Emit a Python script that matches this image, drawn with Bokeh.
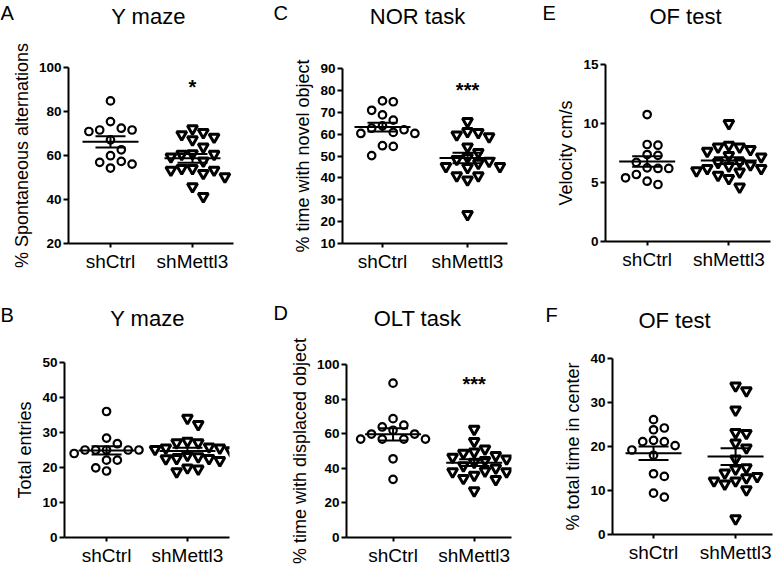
import numpy as np
from bokeh.plotting import figure
from bokeh.layouts import row, column
from bokeh.models import Label, Range1d, FixedTicker
from bokeh.embed import file_html
from bokeh.resources import INLINE

FONT = "Liberation Sans"
groups = ["shCtrl", "shMettl3"]

# A: Y maze - % spontaneous alternations
alt_ctrl = [84.8, 75.4, 72.4, 71.6, 71.6, 70.9, 67.1, 62.6, 59.9, 57.3, 56.9, 56.1, 54.3]
alt_mettl3 = [72.2, 70.5, 69.5, 68.4, 67.2, 63.9, 60.9, 60.6, 60.6, 59.4, 57.5,
              54.1, 54.1, 53.4, 53.4, 51.9, 50.4, 45.9, 41.4]
# B: Y maze - total entries
entries_ctrl = [36.0, 28.4, 26.8, 25.0, 25.0, 25.0, 25.0, 25.0, 24.0, 22.1, 22.1, 19.9, 19.0]
entries_mettl3 = [34.1, 32.3, 27.5, 27.1, 27.1, 25.9, 25.6, 25.6, 25.2, 24.8, 23.5,
                  23.1, 22.6, 22.6, 22.5, 22.0, 19.9, 19.6, 18.8]
# C: NOR task - % time with novel object
nor_ctrl = [75.2, 74.8, 70.9, 68.8, 66.4, 63.8, 62.7, 62.0, 60.8, 60.3, 60.3, 54.7, 54.4, 50.2]
nor_mettl3 = [65.8, 61.2, 60.8, 59.7, 58.8, 54.2, 51.7, 49.4, 48.5, 47.6, 46.7,
              45.2, 45.2, 44.8, 41.0, 41.0, 39.1, 23.3]
# D: OLT task - % time with displaced object
olt_ctrl = [89.2, 68.7, 64.9, 63.9, 62.0, 59.8, 59.8, 56.9, 56.9, 56.9, 56.9, 45.5, 33.6]
olt_mettl3 = [62.6, 55.6, 51.2, 49.5, 48.8, 47.4, 46.5, 45.5, 44.6, 43.5, 41.5,
              40.2, 38.5, 38.0, 38.0, 36.0, 34.2, 33.6, 27.1]
# E: OF test - velocity
vel_ctrl = [10.76, 8.22, 8.16, 7.37, 7.3, 6.7, 6.24, 6.19, 6.19, 5.68, 5.4, 5.11, 4.83]
vel_mettl3 = [10.0, 8.16, 8.02, 8.02, 7.8, 7.66, 7.3, 7.18, 6.75, 6.7, 6.5, 6.4,
              6.19, 6.19, 6.0, 5.9, 5.62, 5.34, 4.63]
# F: OF test - % total time in center
center_ctrl = [26.1, 24.2, 23.8, 21.4, 21.1, 21.1, 20.2, 19.2, 18.0, 13.8, 13.2, 9.4, 8.5]
center_mettl3 = [33.8, 32.7, 28.3, 23.2, 23.0, 20.8, 19.7, 17.2, 15.2, 14.9, 14.0,
                 13.2, 12.9, 12.2, 12.2, 11.5, 10.2, 3.6]


def swarm(vals, ppx, ppy, step=10.8, diam=10.0):
    v = np.asarray(vals, float)
    order = np.argsort(-v, kind="stable")
    placed = []
    off = np.zeros(len(v))
    cands = [0]
    for k in range(1, 10):
        cands += [k, -k]
    for i in order:
        y = v[i] * ppy
        x = 0.0
        for c in cands:
            x = c * step
            if all((x - px) ** 2 + (y - py) ** 2 >= diam ** 2 for px, py in placed):
                break
        placed.append((x, y))
        off[i] = x / ppx
    return off


# layout: each cell = header figure (letter + title) over the plot figure
panels = [
    dict(letter="A", title="Y maze", ylabel="% Spontaneous alternations",
         ctrl=alt_ctrl, kd=alt_mettl3, yr=(20, 100), yticks=[20, 40, 60, 80, 100],
         star="*", star_y=91.0, xr=(0.488, 2.5),
         w=268, hh=36, h=249, mbl=68, mbr=35, mbt=31, mbb=42,
         tx=148, ty=16, lx=0, ly=12),
    dict(letter="C", title="NOR task", ylabel="% time with novel object",
         ctrl=nor_ctrl, kd=nor_mettl3, yr=(10, 90), yticks=list(range(10, 91, 10)),
         star="***", star_y=80.0, xr=(0.53, 2.47),
         w=260, hh=36, h=249, mbl=74, mbr=21, mbt=32, mbb=42,
         tx=149, ty=16, lx=5, ly=12),
    dict(letter="E", title="OF test", ylabel="Velocity cm/s",
         ctrl=vel_ctrl, kd=vel_mettl3, yr=(0, 15), yticks=[0, 5, 10, 15],
         star=None, star_y=None, xr=(0.49, 2.51),
         w=248, hh=36, h=249, mbl=77, mbr=6, mbt=28, mbb=44,
         tx=157, ty=16, lx=14, ly=12),
    dict(letter="B", title="Y maze", ylabel="Total entries",
         ctrl=entries_ctrl, kd=entries_mettl3, yr=(0, 50), yticks=list(range(0, 51, 10)),
         star=None, star_y=None, xr=(0.48, 2.52),
         w=268, hh=48, h=235, mbl=64, mbr=39, mbt=29, mbb=30,
         tx=147, ty=33, lx=0, ly=29),
    dict(letter="D", title="OLT task", ylabel="% time with displaced object",
         ctrl=olt_ctrl, kd=olt_mettl3, yr=(0, 100), yticks=list(range(0, 101, 20)),
         star="***", star_y=89.0, xr=(0.426, 2.46),
         w=260, hh=48, h=235, mbl=78, mbr=17, mbt=31, mbb=29,
         tx=149, ty=33, lx=5, ly=27),
    dict(letter="F", title="OF test", ylabel="% total time in center",
         ctrl=center_ctrl, kd=center_mettl3, yr=(0, 40), yticks=list(range(0, 41, 10)),
         star=None, star_y=None, xr=(0.5, 2.45),
         w=248, hh=48, h=235, mbl=84, mbr=4, mbt=25, mbb=34,
         tx=146, ty=34.5, lx=17, ly=29),
]


def no_align(fig):
    try:
        fig.frame_align = False
    except Exception:
        pass


def make_header(c):
    h = figure(width=c["w"], height=c["hh"], x_range=Range1d(0, c["w"]),
               y_range=Range1d(c["hh"], 0), output_backend="svg", toolbar_location=None,
               x_axis_location=None, y_axis_location=None, title=None, min_border=0)
    no_align(h)
    h.grid.visible = False
    h.outline_line_color = None
    h.background_fill_color = "white"
    h.border_fill_color = "white"
    h.add_layout(Label(x=c["tx"], y=c["ty"], text=c["title"], text_font=FONT,
                       text_font_size="22px", text_color="black",
                       text_align="center", text_baseline="alphabetic"))
    h.add_layout(Label(x=c["lx"], y=c["ly"], text=c["letter"], text_font=FONT,
                       text_font_size="20px", text_color="black",
                       text_align="left", text_baseline="alphabetic"))
    return h


def make_panel(c):
    fw = c["w"] - c["mbl"] - c["mbr"]
    fh = c["h"] - c["mbt"] - c["mbb"]
    x0, x1 = c["xr"]
    y0, y1 = c["yr"]
    ppx = fw / (x1 - x0)
    ppy = fh / (y1 - y0)
    p = figure(width=c["w"], height=c["h"], x_range=Range1d(x0, x1), y_range=Range1d(y0, y1),
               output_backend="svg", toolbar_location=None, title=None,
               min_border_left=c["mbl"], min_border_right=c["mbr"],
               min_border_top=c["mbt"], min_border_bottom=c["mbb"])
    no_align(p)
    p.grid.visible = False
    p.outline_line_color = None
    p.background_fill_color = "white"
    p.border_fill_color = "white"

    for ax in (p.xaxis[0], p.yaxis[0]):
        ax.axis_line_width = 2
        ax.axis_line_color = "black"
        ax.major_tick_line_width = 2
        ax.major_tick_line_color = "black"
        ax.major_tick_in = 0
        ax.major_tick_out = 5
        ax.minor_tick_line_color = None
    xa = p.xaxis[0]
    xa.ticker = FixedTicker(ticks=[1, 2])
    xa.major_label_overrides = {1: groups[0], 2: groups[1]}
    xa.major_label_text_font = FONT
    xa.major_label_text_font_size = "19px"
    xa.major_label_text_color = "black"
    xa.major_tick_out = 4
    xa.major_label_standoff = 3

    ya = p.yaxis[0]
    ya.ticker = FixedTicker(ticks=c["yticks"])
    ya.major_label_text_font = FONT
    ya.major_label_text_font_style = "bold"
    ya.major_label_text_font_size = "13.5px"
    ya.major_label_text_color = "black"
    ya.major_label_standoff = 2
    ya.axis_label = c["ylabel"]
    ya.axis_label_text_font = FONT
    ya.axis_label_text_font_style = "normal"
    ya.axis_label_text_font_size = "18px"
    ya.axis_label_text_color = "black"
    ya.axis_label_standoff = 4

    mean_hw = 28 / ppx
    cap_hw = 15 / ppx
    for gi, (vals, marker, size, lw) in enumerate(
            [(c["ctrl"], "circle", 7.5, 2.2), (c["kd"], "inverted_triangle", 10, 3)]):
        xc = gi + 1
        off = swarm(vals, ppx, ppy)
        p.scatter(x=xc + off, y=vals, marker=marker, size=size,
                  fill_color="white", line_color="black", line_width=lw)
        arr = np.asarray(vals, float)
        m = arr.mean()
        s = arr.std(ddof=1) / np.sqrt(len(arr))
        p.segment(x0=[xc - mean_hw], y0=[m], x1=[xc + mean_hw], y1=[m],
                  line_color="black", line_width=2)
        p.segment(x0=[xc - cap_hw, xc - cap_hw, xc], y0=[m + s, m - s, m - s],
                  x1=[xc + cap_hw, xc + cap_hw, xc], y1=[m + s, m - s, m + s],
                  line_color="black", line_width=2)

    if c["star"]:
        p.add_layout(Label(x=2, y=c["star_y"], text=c["star"], text_font=FONT,
                           text_font_size="20px", text_font_style="bold",
                           text_align="center", text_baseline="middle", text_color="black"))
    return p


cells = [column(make_header(c), make_panel(c)) for c in panels]
layout = column(row(cells[0], cells[1], cells[2]), row(cells[3], cells[4], cells[5]))

open("out.html", "w").write(file_html(layout, INLINE))
